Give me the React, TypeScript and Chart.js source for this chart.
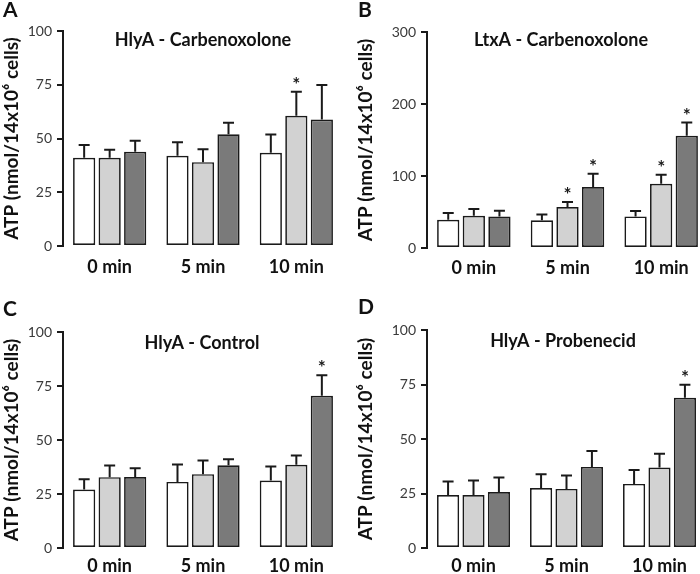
import React, { useEffect, useRef } from "react";
import { Chart, registerables } from "chart.js";
Chart.register(...registerables);

const FONT = "Lato, 'Open Sans', sans-serif";

// ---------- shared ----------
const categories = ["0 min", "5 min", "10 min"];
const seriesColors = ["#ffffff", "#d2d2d2", "#7a7a7a"];
const yAxisLabel = "ATP (nmol/14x10\u2076 cells)";

// ---------- Panel A ----------
const aTitle = "HlyA - Carbenoxolone";
const aWhite = [41, 42, 43.4];
const aWhiteErr = [6, 6.3, 8.5];
const aLight = [41, 39, 60.6];
const aLightErr = [3.8, 6, 11.2];
const aDark = [43.8, 52, 58.8];
const aDarkErr = [5.2, 5.3, 16.1];
const aWhiteSig = [false, false, false];
const aLightSig = [false, false, true];
const aDarkSig = [false, false, false];
const aYMax = 100;
const aYStep = 25;

// ---------- Panel B ----------
const bTitle = "LtxA - Carbenoxolone";
const bWhite = [39.3, 38.4, 43.9];
const bWhiteErr = [9.2, 8.3, 7.4];
const bLight = [44.8, 56.9, 89.2];
const bLightErr = [9.2, 6.9, 12.5];
const bDark = [43.9, 84.6, 155.8];
const bDarkErr = [7.9, 18.4, 18.5];
const bWhiteSig = [false, false, false];
const bLightSig = [false, true, true];
const bDarkSig = [false, true, true];
const bYMax = 300;
const bYStep = 100;

// ---------- Panel C ----------
const cTitle = "HlyA - Control";
const cWhite = [27.1, 30.6, 31.2];
const cWhiteErr = [4.7, 8, 6.5];
const cLight = [32.8, 34.2, 38.5];
const cLightErr = [5.4, 6.3, 4.3];
const cDark = [32.9, 38.3, 70.5];
const cDarkErr = [4, 2.8, 9.5];
const cWhiteSig = [false, false, false];
const cLightSig = [false, false, false];
const cDarkSig = [false, false, true];
const cYMax = 100;
const cYStep = 25;

// ---------- Panel D ----------
const dTitle = "HlyA - Probenecid";
const dWhite = [24.3, 27.5, 29.4];
const dWhiteErr = [6.2, 6.3, 6.4];
const dLight = [24.3, 27.1, 36.9];
const dLightErr = [6.7, 6.1, 6.3];
const dDark = [25.7, 37.2, 68.9];
const dDarkErr = [6.6, 7.3, 6];
const dWhiteSig = [false, false, false];
const dLightSig = [false, false, false];
const dDarkSig = [false, false, true];
const dYMax = 100;
const dYStep = 25;

const decorPlugin = {
  id: "decor",
  afterDatasetsDraw(chart: any) {
    const ctx = chart.ctx;
    const yScale = chart.scales.y;
    chart.data.datasets.forEach((ds: any, i: number) => {
      const meta = chart.getDatasetMeta(i);
      meta.data.forEach((bar: any, j: number) => {
        const v = ds.data[j];
        const e = ds.errors[j];
        const yTop = yScale.getPixelForValue(v + e);
        ctx.save();
        ctx.strokeStyle = "#1a1a1a";
        ctx.lineWidth = 2;
        ctx.beginPath();
        ctx.moveTo(bar.x, bar.y);
        ctx.lineTo(bar.x, yTop);
        ctx.moveTo(bar.x - 5.5, yTop);
        ctx.lineTo(bar.x + 5.5, yTop);
        ctx.stroke();
        if (ds.sig[j]) {
          ctx.fillStyle = "#1a1a1a";
          ctx.font = `bold 19px ${FONT}`;
          ctx.textAlign = "center";
          ctx.textBaseline = "alphabetic";
          ctx.fillText("*", bar.x, yTop - 1);
        }
        ctx.restore();
      });
    });
  },
  afterDraw(chart: any, _args: any, opts: any) {
    const ctx = chart.ctx;
    ctx.save();
    ctx.fillStyle = "#111";
    ctx.textAlign = "center";
    ctx.textBaseline = "middle";
    ctx.font = `bold 18px ${FONT}`;
    ctx.fillText(opts.title, opts.titleX, opts.titleY);
    ctx.textAlign = "left";
    ctx.textBaseline = "top";
    ctx.font = `bold 21px ${FONT}`;
    ctx.fillText(opts.letter, opts.letterX, opts.letterY);
    ctx.restore();
  },
};

type PanelCfg = {
  letter: string;
  title: string;
  white: number[]; whiteErr: number[]; whiteSig: boolean[];
  light: number[]; lightErr: number[]; lightSig: boolean[];
  dark: number[]; darkErr: number[]; darkSig: boolean[];
  yMax: number; yStep: number;
  // layout
  left: number; top: number; width: number; height: number;
  padTop: number; padRight: number; yWidth: number; xHeight: number;
  yTitlePad: number; xPad: number;
  titleX: number; titleY: number; letterX: number; letterY: number;
};

function Panel({ cfg }: { cfg: PanelCfg }) {
  const ref = useRef<HTMLCanvasElement>(null);
  useEffect(() => {
    if (!ref.current) return;
    const mk = (data: number[], errors: number[], sig: boolean[], color: string) => ({
      data,
      errors,
      sig,
      backgroundColor: color,
      borderColor: "#1a1a1a",
      borderWidth: 1.7,
      borderSkipped: false,
      categoryPercentage: 0.82,
      barPercentage: 0.87,
    });
    const chart = new Chart(ref.current, {
      type: "bar",
      data: {
        labels: categories,
        datasets: [
          mk(cfg.white, cfg.whiteErr, cfg.whiteSig, seriesColors[0]),
          mk(cfg.light, cfg.lightErr, cfg.lightSig, seriesColors[1]),
          mk(cfg.dark, cfg.darkErr, cfg.darkSig, seriesColors[2]),
        ] as any,
      },
      options: {
        responsive: false,
        animation: false,
        layout: { padding: { left: 0, top: cfg.padTop, right: cfg.padRight, bottom: 0 } },
        plugins: {
          legend: { display: false },
          tooltip: { enabled: false },
          decor: {
            title: cfg.title,
            letter: cfg.letter,
            titleX: cfg.titleX,
            titleY: cfg.titleY,
            letterX: cfg.letterX,
            letterY: cfg.letterY,
          },
        } as any,
        scales: {
          x: {
            grid: { display: false, drawTicks: false },
            border: { display: false },
            ticks: {
              color: "#111",
              font: { family: FONT, size: 18, weight: "bold" },
              padding: cfg.xPad,
            },
            afterFit: (s: any) => { s.height = cfg.xHeight; },
          },
          y: {
            min: 0,
            max: cfg.yMax,
            ticks: {
              stepSize: cfg.yStep,
              color: "#3a3a3a",
              font: { family: FONT, size: 14 },
              padding: 5,
            },
            grid: {
              drawOnChartArea: false,
              drawTicks: true,
              tickLength: 6,
              color: "#1a1a1a",
              lineWidth: 2,
            },
            border: { display: true, color: "#1a1a1a", width: 2 },
            title: {
              display: true,
              text: yAxisLabel,
              color: "#111",
              font: { family: FONT, size: 19, weight: "bold", lineHeight: 1 },
              padding: { top: cfg.yTitlePad, bottom: 0 },
            },
            afterFit: (s: any) => { s.width = cfg.yWidth; },
          },
        } as any,
      },
      plugins: [decorPlugin as any],
    });
    return () => chart.destroy();
  }, [cfg]);
  return (
    <div style={{ position: "absolute", left: cfg.left, top: cfg.top, width: cfg.width, height: cfg.height }}>
      <canvas ref={ref} width={cfg.width} height={cfg.height} style={{ display: "block" }} />
    </div>
  );
}

const panels: PanelCfg[] = [
  {
    letter: "A", title: aTitle,
    white: aWhite, whiteErr: aWhiteErr, whiteSig: aWhiteSig,
    light: aLight, lightErr: aLightErr, lightSig: aLightSig,
    dark: aDark, darkErr: aDarkErr, darkSig: aDarkSig,
    yMax: aYMax, yStep: aYStep,
    left: 0, top: 0, width: 350, height: 287,
    padTop: 31, padRight: 7, yWidth: 63, xHeight: 41, yTitlePad: 2, xPad: 10,
    titleX: 203, titleY: 40, letterX: 3, letterY: 0,
  },
  {
    letter: "B", title: bTitle,
    white: bWhite, whiteErr: bWhiteErr, whiteSig: bWhiteSig,
    light: bLight, lightErr: bLightErr, lightSig: bLightSig,
    dark: bDark, darkErr: bDarkErr, darkSig: bDarkSig,
    yMax: bYMax, yStep: bYStep,
    left: 350, top: 0, width: 360, height: 287,
    padTop: 32, padRight: 2, yWidth: 77, xHeight: 39, yTitlePad: 6, xPad: 9,
    titleX: 211, titleY: 40, letterX: 8, letterY: 0,
  },
  {
    letter: "C", title: cTitle,
    white: cWhite, whiteErr: cWhiteErr, whiteSig: cWhiteSig,
    light: cLight, lightErr: cLightErr, lightSig: cLightSig,
    dark: cDark, darkErr: cDarkErr, darkSig: cDarkSig,
    yMax: cYMax, yStep: cYStep,
    left: 0, top: 287, width: 350, height: 287,
    padTop: 45, padRight: 7, yWidth: 63, xHeight: 26, yTitlePad: 2, xPad: 7,
    titleX: 202, titleY: 56, letterX: 3, letterY: 12,
  },
  {
    letter: "D", title: dTitle,
    white: dWhite, whiteErr: dWhiteErr, whiteSig: dWhiteSig,
    light: dLight, lightErr: dLightErr, lightSig: dLightSig,
    dark: dDark, darkErr: dDarkErr, darkSig: dDarkSig,
    yMax: dYMax, yStep: dYStep,
    left: 350, top: 287, width: 360, height: 287,
    padTop: 43, padRight: 4, yWidth: 77, xHeight: 26, yTitlePad: 6, xPad: 7,
    titleX: 213, titleY: 54, letterX: 8, letterY: 10,
  },
];

export default function App() {
  useEffect(() => {
    document.body.style.margin = "0";
  }, []);
  return (
    <div
      style={{
        position: "absolute",
        left: 0,
        top: 0,
        width: 700,
        height: 574,
        overflow: "hidden",
        background: "#ffffff",
      }}
    >
      {panels.map((p) => (
        <Panel key={p.letter} cfg={p} />
      ))}
    </div>
  );
}
